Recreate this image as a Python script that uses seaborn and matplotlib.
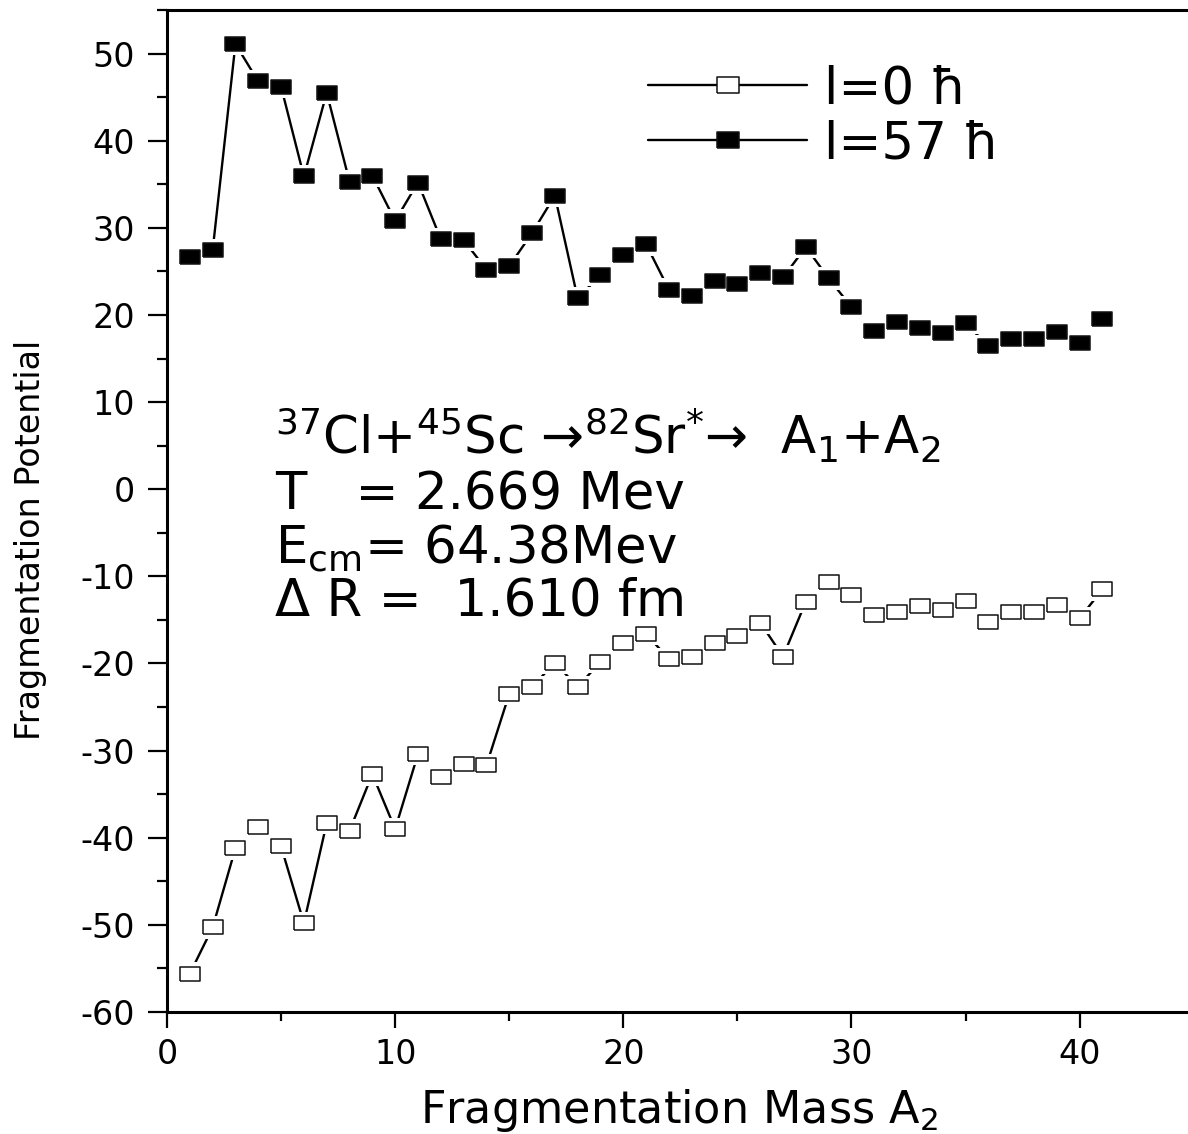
import numpy as np
import pandas as pd
import matplotlib
matplotlib.use("Agg")
import matplotlib.pyplot as plt
from matplotlib.lines import Line2D
from matplotlib.ticker import MultipleLocator
import seaborn as sns

# ---------------- data ----------------
mass_a2 = list(range(1, 42))
pot_l0 = [-55.6, -50.3, -41.2, -38.8, -41.0, -49.8, -38.3, -39.2, -32.7, -39.0,
          -30.4, -33.0, -31.5, -31.7, -23.5, -22.7, -19.9, -22.7, -19.8, -17.6,
          -16.6, -19.5, -19.2, -17.7, -16.9, -15.3, -19.2, -12.9, -10.6, -12.1,
          -14.4, -14.1, -13.4, -13.9, -12.8, -15.2, -14.1, -14.1, -13.3, -14.8,
          -11.5]
pot_l57 = [26.7, 27.4, 51.1, 46.8, 46.2, 35.9, 45.5, 35.3, 36.0, 30.8,
           35.2, 28.7, 28.6, 25.2, 25.6, 29.4, 33.7, 21.9, 24.6, 26.9,
           28.1, 22.9, 22.2, 23.9, 23.6, 24.8, 24.3, 27.8, 24.2, 20.9,
           18.2, 19.2, 18.5, 17.9, 19.1, 16.4, 17.2, 17.2, 18.1, 16.8,
           19.5]
series_labels = ["l=0 ħ", "l=57 ħ"]
x_label = "Fragmentation Mass A$\\mathregular{_2}$"
y_label = "Fragmentation Potential"
annot_lines = [
    "$\\mathregular{^{37}}$Cl+$\\mathregular{^{45}}$Sc →$\\mathregular{^{82}}$Sr$\\mathregular{^{*}}$→  A$\\mathregular{_1}$+A$\\mathregular{_2}$",
    "T   = 2.669 Mev",
    "E$\\mathregular{_{cm}}$= 64.38Mev",
    "Δ R =  1.610 fm",
]

df0 = pd.DataFrame({"A2": mass_a2, "V": pot_l0})
df57 = pd.DataFrame({"A2": mass_a2, "V": pot_l57})

# ---------------- style ----------------
sns.set_style("ticks")
plt.rcParams["font.family"] = ["DejaVu Sans"]
plt.rcParams["mathtext.default"] = "regular"
plt.rcParams["axes.unicode_minus"] = False
for k in ("text.color", "axes.labelcolor", "xtick.color", "ytick.color",
          "axes.edgecolor"):
    plt.rcParams[k] = "black"

W, H = 1188, 1134
fig = plt.figure(figsize=(W / 100, H / 100), dpi=100)
ax = fig.add_axes([167 / W, 122 / H, 1021 / W, 1002 / H])

rect = [(-1, -0.68), (1, -0.68), (1, 0.68), (-1, 0.68), (-1, -0.68)]
halo = [(-1, -0.8), (1, -0.8), (1, 0.8), (-1, 0.8), (-1, -0.8)]

for d, fc in ((df0, "white"), (df57, "black")):
    sns.lineplot(data=d, x="A2", y="V", ax=ax, color="black", lw=1.7,
                 zorder=1, legend=False)
    sns.scatterplot(data=d, x="A2", y="V", ax=ax, marker=halo, s=20.5 ** 2,
                    color="white", edgecolor="none", linewidth=0, zorder=2,
                    legend=False)
    sns.scatterplot(data=d, x="A2", y="V", ax=ax, marker=rect, s=14.8 ** 2,
                    facecolor=fc, edgecolor="#111111", linewidth=1.1, zorder=3,
                    legend=False)

ax.set_xlim(0, 44.75)
ax.set_ylim(-60, 55)
ax.xaxis.set_major_locator(MultipleLocator(10))
ax.xaxis.set_minor_locator(MultipleLocator(5))
ax.yaxis.set_major_locator(MultipleLocator(10))
ax.yaxis.set_minor_locator(MultipleLocator(5))

for side in ("left", "bottom", "top"):
    ax.spines[side].set_linewidth(2.2)
    ax.spines[side].set_color("black")
ax.spines["right"].set_visible(False)

ax.tick_params(axis="y", which="major", direction="out", length=14, width=1.6,
               labelsize=24, pad=9, colors="black")
ax.tick_params(axis="y", which="minor", direction="out", length=7, width=1.6)
ax.tick_params(axis="x", which="major", direction="out", length=11.5, width=1.6,
               labelsize=24, pad=7, colors="black")
ax.tick_params(axis="x", which="minor", direction="out", length=6.5, width=1.6)
ax.tick_params(top=False, right=False, which="both")

ax.set_xlabel(x_label, fontsize=32, color="black")
ax.set_ylabel(y_label, fontsize=24, color="black")
ax.xaxis.set_label_coords(0.502, -0.075)
ax.yaxis.set_label_coords(-0.118, 0.471)
ax.xaxis.label.set_va("top")

# annotation block
bases = [455, 510, 563, 615]
for txt, b in zip(annot_lines, bases):
    fig.text(275 / W, 1 - b / H, txt, fontsize=37, ha="left", va="baseline",
             color="black")

# legend
handles = [
    Line2D([], [], color="black", lw=1.7, marker=rect, markersize=16,
           markerfacecolor="white", markeredgecolor="#111111", markeredgewidth=1.1),
    Line2D([], [], color="black", lw=1.7, marker=rect, markersize=16,
           markerfacecolor="black", markeredgecolor="#111111", markeredgewidth=1.1),
]
leg = fig.legend(handles, series_labels, loc="upper left",
                 bbox_to_anchor=(648 / W, 1 - 64 / H), bbox_transform=fig.transFigure,
                 frameon=False, fontsize=37, handlelength=3.1, handletextpad=0.33,
                 labelspacing=0.1, borderpad=0, borderaxespad=0, numpoints=1)
for t in leg.get_texts():
    t.set_color("black")

fig.savefig("out.png", dpi=100)
